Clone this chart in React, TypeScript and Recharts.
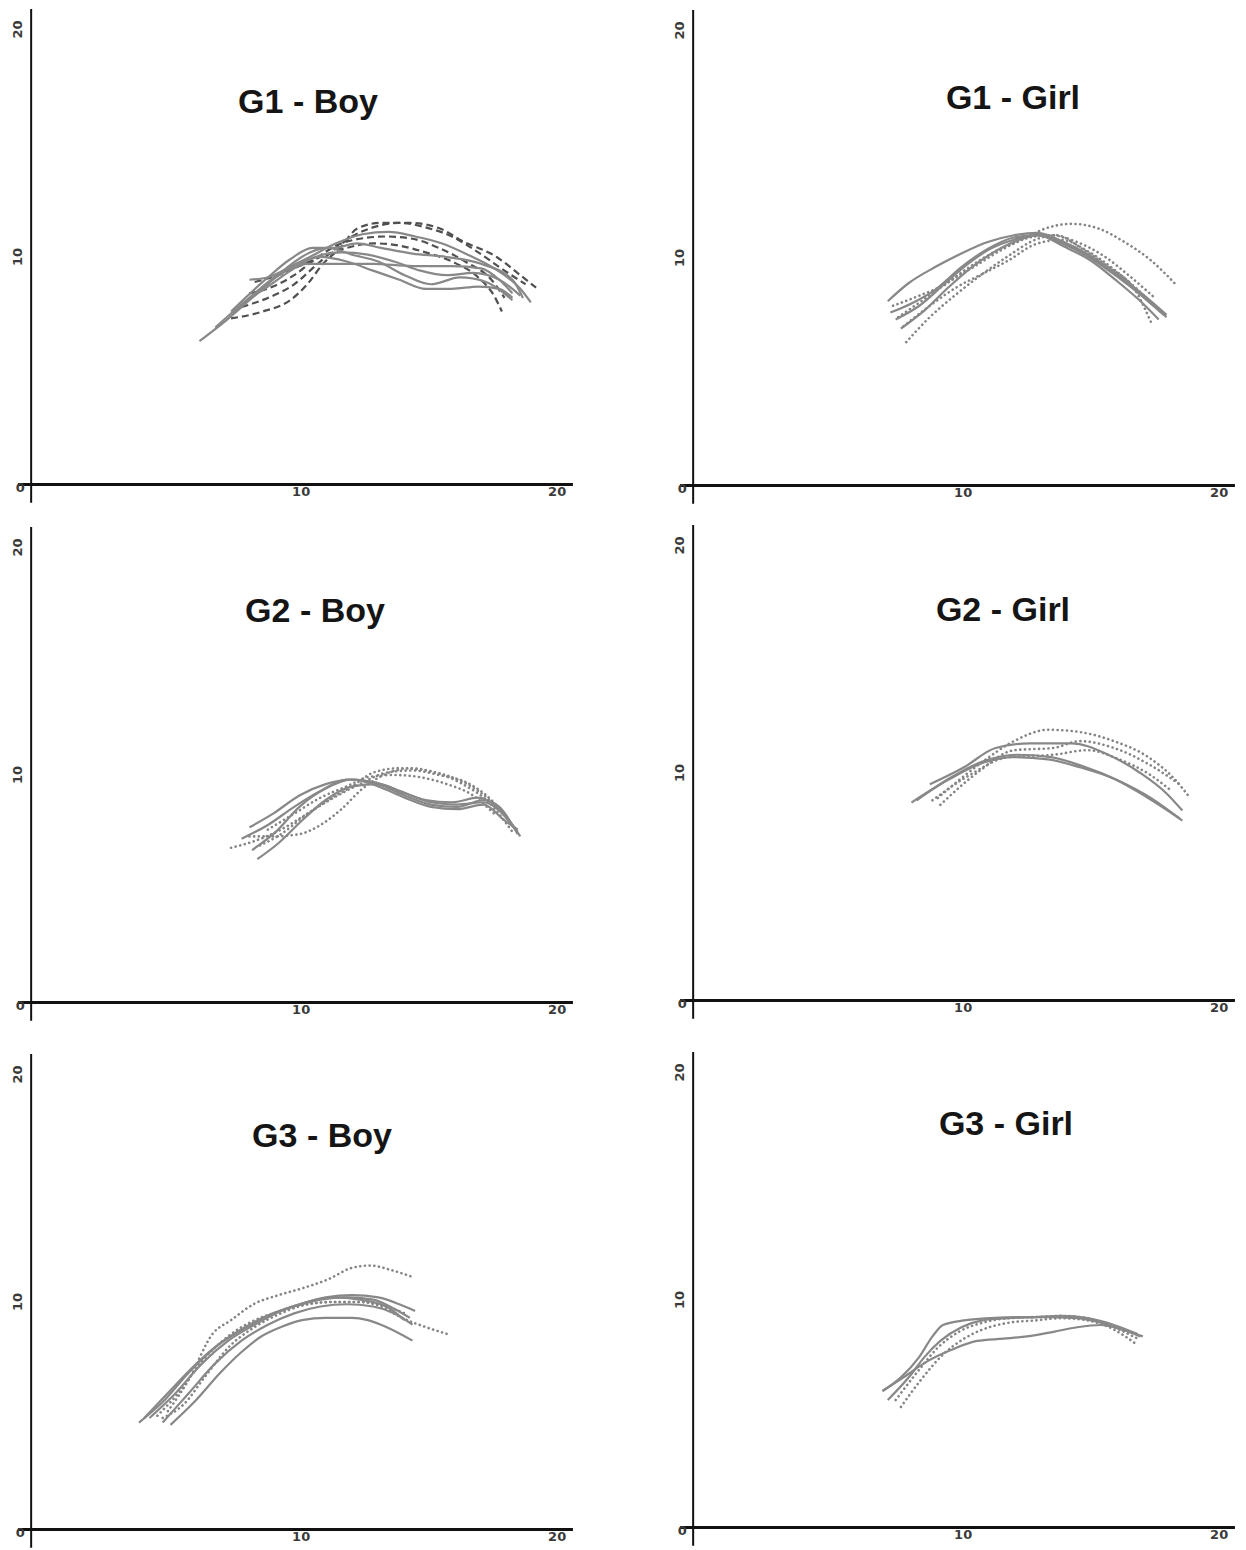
import React from 'react';
import { LineChart, Line, XAxis, YAxis, ReferenceLine } from 'recharts';

type Pt = [number, number];

// ---- data: each curve is a list of [age, value] points ----

const g1BoySolid: Pt[][] = [
  [[6.4, 6.3], [7.3, 7.1], [8.2, 8.0], [9.0, 8.8], [9.8, 9.6], [10.6, 10.2], [11.3, 10.4], [12.2, 10.1], [13.2, 9.8], [14.2, 9.2], [15.2, 8.8], [16.3, 9.1], [17.3, 8.9], [18.3, 8.1]],
  [[8.3, 9.0], [9.0, 9.1], [9.8, 9.5], [10.5, 9.7], [11.5, 9.7], [13.0, 9.7], [14.5, 9.6], [16.0, 9.6], [17.1, 9.5], [17.8, 9.0], [18.3, 8.4]],
  [[7.6, 7.6], [9.0, 9.1], [9.85, 9.9], [10.7, 10.4], [11.5, 10.4], [12.4, 10.6], [13.3, 10.4], [14.5, 10.15], [15.8, 10.0], [17.1, 9.7], [18.3, 9.0], [18.7, 8.2]],
  [[7.0, 6.9], [8.0, 7.9], [9.0, 8.7], [10.0, 9.5], [10.8, 10.0], [11.8, 10.2], [12.8, 10.1], [13.8, 9.8], [14.8, 9.4], [15.8, 9.2], [16.8, 9.3], [17.8, 9.0], [18.6, 8.3]],
  [[7.6, 7.5], [8.5, 8.4], [9.3, 9.1], [10.2, 9.7], [11.0, 10.0], [12.0, 9.8], [13.0, 9.4], [14.0, 9.0], [15.0, 8.6], [16.0, 8.6], [17.0, 8.7], [17.8, 8.6], [18.3, 8.2]],
  [[7.8, 7.6], [8.8, 8.7], [9.6, 9.4], [10.6, 10.0], [11.6, 10.6], [12.6, 11.0], [13.6, 11.1], [14.6, 10.9], [15.6, 10.6], [16.6, 10.1], [17.6, 9.5], [18.6, 8.6], [19.0, 8.0]],
];
const g1BoyDashed: Pt[][] = [
  [[7.6, 7.3], [8.8, 7.6], [9.85, 8.1], [10.5, 8.8], [11.1, 9.7], [11.75, 10.4], [12.4, 11.25], [13.3, 11.5], [14.4, 11.5], [15.55, 11.25], [16.4, 10.7], [17.7, 10.0], [18.6, 9.2], [19.2, 8.65]],
  [[8.0, 7.8], [9.0, 8.2], [10.0, 8.8], [10.8, 9.6], [11.5, 10.3], [12.2, 10.9], [13.0, 11.3], [14.0, 11.5], [15.0, 11.3], [16.0, 10.9], [17.0, 10.2], [18.0, 9.4], [18.8, 8.8]],
  [[8.3, 8.4], [9.2, 8.7], [10.0, 9.2], [10.8, 9.9], [11.6, 10.5], [12.5, 10.8], [13.5, 10.9], [14.5, 10.8], [15.5, 10.4], [16.5, 9.8], [17.5, 9.0], [18.0, 8.2]],
  [[8.5, 8.9], [9.4, 9.2], [10.2, 9.6], [11.0, 10.0], [12.0, 10.4], [13.0, 10.6], [14.0, 10.5], [15.0, 10.2], [16.0, 9.8], [17.0, 9.1], [17.6, 8.3], [17.9, 7.6]],
];

const g1GirlSolid: Pt[][] = [
  [[7.4, 8.1], [8.2, 8.9], [9.2, 9.6], [10.2, 10.2], [11.2, 10.7], [12.2, 11.0], [13.1, 11.1], [14.1, 10.7], [15.1, 10.1], [16.1, 9.3], [17.1, 8.4], [18.0, 7.5]],
  [[7.5, 7.6], [8.3, 8.0], [9.2, 8.6], [10.2, 9.6], [11.2, 10.4], [12.2, 10.9], [13.1, 11.0], [14.1, 10.6], [15.1, 10.0], [16.1, 9.2], [17.1, 8.3], [17.9, 7.5]],
  [[7.7, 7.3], [8.6, 7.9], [9.5, 8.8], [10.4, 9.7], [11.3, 10.4], [12.2, 10.8], [13.1, 11.0], [14.1, 10.5], [15.1, 9.9], [16.1, 9.0], [17.1, 8.0], [17.7, 7.3]],
  [[7.9, 6.9], [8.8, 7.7], [9.7, 8.7], [10.6, 9.6], [11.5, 10.3], [12.4, 10.8], [13.2, 11.0], [14.2, 10.6], [15.2, 10.0], [16.2, 9.2], [17.2, 8.2], [18.0, 7.4]],
];
const g1GirlDotted: Pt[][] = [
  [[7.6, 7.9], [8.5, 8.3], [9.5, 8.8], [10.5, 9.6], [11.5, 10.3], [12.5, 10.8], [13.4, 11.3], [14.4, 11.5], [15.4, 11.3], [16.4, 10.7], [17.4, 9.9], [18.3, 8.9]],
  [[7.8, 7.4], [8.8, 8.2], [9.8, 9.0], [10.8, 9.7], [11.8, 10.4], [12.8, 10.9], [13.6, 11.0], [14.6, 10.7], [15.6, 10.1], [16.6, 9.2], [17.6, 8.2]],
  [[8.1, 6.3], [9.0, 7.4], [10.0, 8.4], [11.0, 9.3], [12.0, 10.1], [13.0, 10.8], [13.8, 11.0], [14.8, 10.4], [15.8, 9.6], [16.8, 8.6], [17.4, 7.2]],
  [[8.0, 7.0], [9.0, 7.9], [10.0, 8.7], [11.0, 9.3], [12.0, 9.9], [13.0, 10.6], [14.0, 10.8], [15.0, 10.3], [16.0, 9.5], [17.0, 8.5], [17.8, 7.6]],
];

const g2BoySolid: Pt[][] = [
  [[8.3, 7.7], [9.2, 8.3], [10.2, 9.1], [11.2, 9.6], [12.2, 9.8], [13.2, 9.6], [14.2, 9.1], [15.2, 8.7], [16.2, 8.6], [17.2, 8.9], [17.8, 8.6], [18.5, 7.4]],
  [[8.0, 7.2], [9.0, 7.8], [10.0, 8.6], [11.0, 9.3], [12.0, 9.8], [13.0, 9.7], [14.0, 9.3], [15.0, 8.9], [16.0, 8.8], [17.0, 9.0], [17.8, 8.5], [18.5, 7.5]],
  [[8.6, 6.3], [9.4, 7.0], [10.3, 8.0], [11.2, 8.9], [12.2, 9.5], [13.2, 9.6], [14.2, 9.2], [15.2, 8.8], [16.2, 8.7], [17.2, 8.8], [18.0, 8.2], [18.6, 7.3]],
  [[8.4, 6.7], [9.3, 7.5], [10.2, 8.6], [11.2, 9.4], [12.2, 9.8], [13.2, 9.5], [14.2, 9.0], [15.2, 8.6], [16.2, 8.5], [17.2, 8.7], [18.0, 8.0], [18.5, 7.6]],
];
const g2BoyDotted: Pt[][] = [
  [[7.6, 6.8], [8.5, 7.1], [9.5, 7.6], [10.5, 8.3], [11.5, 9.0], [12.5, 9.6], [13.5, 10.1], [14.5, 10.2], [15.5, 10.0], [16.5, 9.7], [17.5, 8.9], [18.4, 7.6]],
  [[8.3, 7.3], [9.2, 7.3], [10.2, 7.4], [11.0, 7.8], [11.8, 8.5], [12.6, 9.4], [13.4, 10.0], [14.4, 10.3], [15.4, 10.1], [16.4, 9.6], [17.4, 8.8], [18.3, 7.5]],
  [[8.7, 6.9], [9.5, 7.4], [10.4, 8.2], [11.3, 8.9], [12.2, 9.5], [13.0, 10.1], [14.0, 10.3], [15.0, 10.2], [16.0, 9.9], [17.0, 9.3], [18.0, 8.3]],
  [[9.0, 7.6], [10.0, 8.3], [11.0, 9.0], [12.0, 9.5], [12.8, 9.9], [13.8, 10.0], [14.8, 9.9], [15.8, 9.6], [16.8, 9.1], [17.6, 8.3]],
];

const g2GirlSolid: Pt[][] = [
  [[8.3, 8.7], [9.7, 9.7], [10.9, 10.4], [12.2, 10.7], [13.5, 10.6], [14.7, 10.25], [16.0, 9.75], [17.3, 8.9], [18.5, 8.0]],
  [[8.5, 8.8], [9.8, 9.8], [11.0, 10.5], [12.3, 10.8], [13.6, 10.7], [14.8, 10.3], [16.1, 9.7], [17.4, 8.9], [18.6, 7.9]],
  [[9.0, 9.5], [10.3, 10.25], [11.5, 11.1], [12.8, 11.3], [14.4, 11.3], [15.7, 10.85], [17.0, 10.0], [18.0, 9.1], [18.6, 8.35]],
];
const g2GirlDotted: Pt[][] = [
  [[9.3, 8.9], [10.9, 10.4], [12.2, 11.4], [13.5, 11.9], [14.7, 11.8], [16.0, 11.4], [17.3, 10.7], [18.25, 9.8], [18.9, 8.9]],
  [[9.4, 8.6], [10.9, 10.1], [12.2, 11.0], [13.7, 11.1], [14.7, 11.4], [16.0, 11.1], [17.3, 10.4], [18.5, 9.5]],
  [[9.1, 8.8], [10.5, 9.9], [12.0, 10.7], [13.7, 10.8], [15.0, 11.0], [16.2, 10.6], [17.4, 9.9], [18.2, 9.2]],
];

const g3BoySolid: Pt[][] = [
  [[4.1, 4.7], [5.0, 5.6], [6.0, 6.9], [7.0, 8.0], [8.0, 8.8], [9.0, 9.4], [10.0, 9.8], [11.0, 10.1], [12.0, 10.2], [13.0, 10.1], [13.8, 9.7], [14.4, 9.3]],
  [[4.5, 4.9], [5.5, 6.0], [6.5, 7.3], [7.5, 8.3], [8.5, 9.0], [9.5, 9.6], [10.5, 10.0], [11.5, 10.2], [12.5, 10.1], [13.5, 9.8], [14.2, 9.2]],
  [[5.3, 4.6], [6.2, 5.6], [7.2, 6.9], [8.0, 7.8], [8.7, 8.45], [9.5, 8.9], [10.3, 9.2], [11.2, 9.3], [12.2, 9.3], [12.8, 9.2], [13.5, 8.9], [14.5, 8.3]],
  [[5.0, 4.7], [6.0, 6.0], [7.0, 7.3], [8.0, 8.3], [9.0, 9.0], [10.0, 9.5], [11.0, 9.8], [12.0, 9.9], [13.0, 9.8], [13.8, 9.5], [14.5, 9.0]],
  [[4.3, 4.9], [5.2, 6.0], [6.2, 7.2], [7.2, 8.2], [8.2, 8.9], [9.2, 9.5], [10.2, 9.9], [11.2, 10.2], [12.2, 10.3], [13.2, 10.2], [14.0, 9.9], [14.6, 9.6]],
];
const g3BoyDotted: Pt[][] = [
  [[5.2, 5.2], [6.0, 6.6], [6.9, 8.6], [7.6, 9.2], [8.45, 9.9], [9.4, 10.3], [10.3, 10.6], [11.3, 11.0], [12.2, 11.5], [12.9, 11.6], [13.7, 11.4], [14.5, 11.1]],
  [[4.8, 5.0], [5.6, 6.0], [6.5, 7.4], [7.5, 8.5], [8.5, 9.2], [9.5, 9.6], [10.5, 9.9], [11.5, 10.0], [12.5, 10.0], [13.3, 9.8], [14.1, 9.3], [15.0, 8.9], [15.8, 8.6]],
  [[5.0, 4.9], [5.8, 5.5], [6.6, 6.7], [7.5, 8.0], [8.5, 8.9], [9.5, 9.5], [10.5, 9.9], [11.5, 10.0], [12.5, 10.0], [13.5, 9.8], [14.2, 9.5]],
];

const g3GirlSolid: Pt[][] = [
  [[7.2, 6.0], [7.9, 6.6], [8.6, 7.5], [9.1, 8.4], [9.5, 8.9], [10.3, 9.1], [11.3, 9.2], [12.5, 9.25], [13.5, 9.25], [14.6, 9.2], [15.5, 9.0], [16.3, 8.7], [17.1, 8.4]],
  [[7.4, 5.6], [8.2, 6.6], [8.8, 7.5], [9.4, 8.2], [10.2, 8.8], [11.0, 9.1], [12.0, 9.2], [13.0, 9.25], [14.0, 9.3], [15.0, 9.2], [16.0, 8.9], [16.9, 8.5]],
  [[7.2, 6.0], [8.0, 6.6], [8.9, 7.3], [9.8, 7.8], [10.8, 8.2], [11.8, 8.3], [12.7, 8.4], [13.7, 8.6], [14.6, 8.8], [15.5, 8.9], [16.3, 8.7], [17.0, 8.4]],
];
const g3GirlDotted: Pt[][] = [
  [[7.9, 5.3], [8.6, 6.4], [9.5, 7.6], [10.3, 8.3], [11.0, 8.7], [12.0, 9.0], [13.0, 9.1], [14.0, 9.2], [15.0, 9.1], [16.0, 8.7], [16.8, 8.1]],
  [[7.7, 5.6], [8.5, 6.8], [9.3, 7.9], [10.1, 8.6], [11.0, 9.0], [12.0, 9.2], [13.0, 9.25], [14.0, 9.3], [15.0, 9.2], [16.0, 8.8], [16.9, 8.3]],
];

const xTicks = [0, 10, 20];
const yTicks = [10, 20];

// ---- layout ----
const X_PX = 26.3;   // px per unit, x
const Y_PX = 22.75;  // px per unit, y
const X_DOMAIN: [number, number] = [-0.5, 20.6];
const Y_DOMAIN: [number, number] = [-0.8, 20.9];
const TICK_FONT = { fontFamily: '"DejaVu Sans", sans-serif', fontWeight: 700, fontSize: 13, fill: '#3a3a3a' };

const XTick = ({ x, y, payload }: any) => {
  const v = payload.value;
  // the scanned labels sit a little off their ticks
  const dx = v === 0 ? -11 : v === 10 ? 7 : 0;
  return (
    <text
      x={x + dx}
      y={v === 0 ? y - 15 : y - 11}
      textAnchor="middle"
      dominantBaseline="central"
      {...TICK_FONT}
    >
      {v}
    </text>
  );
};

const YTick = ({ x, y, payload }: any) => (
  <text
    x={x}
    y={y}
    transform={`rotate(-90, ${x}, ${y})`}
    textAnchor="middle"
    dominantBaseline="central"
    {...TICK_FONT}
  >
    {payload.value}
  </text>
);

interface PanelProps {
  x0: number;
  y0: number;
  title: string;
  titleX: number;
  titleY: number;
  solid: Pt[][];
  broken: Pt[][];
  brokenKind: 'dash' | 'dot';
}

function Panel({ x0, y0, title, titleX, titleY, solid, broken, brokenKind }: PanelProps) {
  const plotW = (X_DOMAIN[1] - X_DOMAIN[0]) * X_PX;
  const plotH = (Y_DOMAIN[1] - Y_DOMAIN[0]) * Y_PX;
  const plotLeft = x0 + X_DOMAIN[0] * X_PX;
  const plotTop = y0 - Y_DOMAIN[1] * Y_PX;
  const width = 30 + plotW + 10;
  const height = 10 + plotH + 25;

  const brokenStyle = brokenKind === 'dash'
    ? { stroke: '#505050', strokeWidth: 2.2, strokeDasharray: '7 4', strokeLinecap: 'butt' as const }
    : { stroke: '#858585', strokeWidth: 2.6, strokeDasharray: '0.1 4.6', strokeLinecap: 'round' as const };

  return (
    <>
      <div style={{ position: 'absolute', left: plotLeft - 30, top: plotTop - 10 }}>
        <LineChart width={width} height={height} margin={{ top: 10, right: 10, bottom: 5, left: 10 }}>
          <XAxis
            type="number"
            dataKey="x"
            domain={X_DOMAIN}
            ticks={xTicks}
            axisLine={false}
            tickLine={false}
            tickSize={0}
            tickMargin={0}
            height={20}
            tick={<XTick />}
            allowDataOverflow
          />
          <YAxis
            type="number"
            dataKey="y"
            domain={Y_DOMAIN}
            ticks={yTicks}
            axisLine={false}
            tickLine={false}
            tickSize={0}
            tickMargin={0}
            width={20}
            tick={<YTick />}
            allowDataOverflow
          />
          <ReferenceLine x={0} stroke="#111" strokeWidth={2} />
          <ReferenceLine y={0} stroke="#111" strokeWidth={3} />
          {broken.map((line, i) => (
            <Line
              key={`b${i}`}
              data={line.map(([x, y]) => ({ x, y }))}
              dataKey="y"
              type="monotone"
              dot={false}
              activeDot={false}
              isAnimationActive={false}
              {...brokenStyle}
            />
          ))}
          {solid.map((line, i) => (
            <Line
              key={`s${i}`}
              data={line.map(([x, y]) => ({ x, y }))}
              dataKey="y"
              type="monotone"
              stroke="#888"
              strokeWidth={2.2}
              dot={false}
              activeDot={false}
              isAnimationActive={false}
            />
          ))}
        </LineChart>
      </div>
      <div
        style={{
          position: 'absolute',
          left: titleX - 150,
          top: titleY - 28,
          width: 300,
          textAlign: 'center',
          fontFamily: '"Liberation Sans", Arial, sans-serif',
          fontWeight: 700,
          fontSize: 34,
          lineHeight: '34px',
          color: '#151515',
          whiteSpace: 'nowrap',
        }}
      >
        {title}
      </div>
    </>
  );
}

export default function App() {
  return (
    <div style={{ position: 'absolute', left: 0, top: 0, width: 1246, height: 1550, background: '#fff', overflow: 'hidden' }}>
      <Panel x0={31} y0={484} title="G1 - Boy" titleX={308} titleY={112} solid={g1BoySolid} broken={g1BoyDashed} brokenKind="dash" />
      <Panel x0={693} y0={485} title="G1 - Girl" titleX={1013} titleY={108} solid={g1GirlSolid} broken={g1GirlDotted} brokenKind="dot" />
      <Panel x0={31} y0={1002} title="G2 - Boy" titleX={315} titleY={621} solid={g2BoySolid} broken={g2BoyDotted} brokenKind="dot" />
      <Panel x0={693} y0={1000} title="G2 - Girl" titleX={1003} titleY={620} solid={g2GirlSolid} broken={g2GirlDotted} brokenKind="dot" />
      <Panel x0={31} y0={1529} title="G3 - Boy" titleX={322} titleY={1146} solid={g3BoySolid} broken={g3BoyDotted} brokenKind="dot" />
      <Panel x0={693} y0={1527} title="G3 - Girl" titleX={1006} titleY={1134} solid={g3GirlSolid} broken={g3GirlDotted} brokenKind="dot" />
    </div>
  );
}
